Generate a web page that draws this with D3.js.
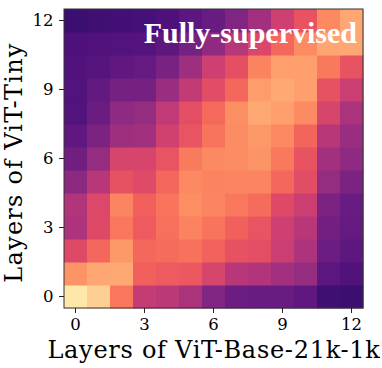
<!DOCTYPE html>
<html>
<head>
<meta charset="utf-8">
<script src="https://cdn.jsdelivr.net/npm/d3@7"></script>
<style>
  html, body { margin: 0; padding: 0; background: #fff; }
  svg { display: block; }
</style>
</head>
<body>
<script>
// Layer indices (0..12) for both models
const layersX = [0,1,2,3,4,5,6,7,8,9,10,11,12]; // ViT-Base-21k-1k
const layersY = [0,1,2,3,4,5,6,7,8,9,10,11,12]; // ViT-Tiny
const tickLabels = [0, 3, 6, 9, 12];

// Similarity values, one row per ViT-Tiny layer (row 0 = layer 0), columns = ViT-Base layers 0..12
const row0  = [0.95, 0.90, 0.715, 0.535, 0.515, 0.475, 0.37, 0.32, 0.31, 0.31, 0.29, 0.21, 0.20];
const row1  = [0.775, 0.815, 0.82, 0.665, 0.65, 0.645, 0.58, 0.505, 0.49, 0.455, 0.42, 0.28, 0.25];
const row2  = [0.60, 0.68, 0.785, 0.68, 0.69, 0.705, 0.67, 0.625, 0.615, 0.55, 0.48, 0.32, 0.285];
const row3  = [0.48, 0.60, 0.715, 0.65, 0.70, 0.74, 0.71, 0.665, 0.635, 0.555, 0.50, 0.335, 0.30];
const row4  = [0.485, 0.595, 0.745, 0.665, 0.71, 0.765, 0.745, 0.715, 0.695, 0.60, 0.55, 0.36, 0.31];
const row5  = [0.395, 0.50, 0.625, 0.605, 0.68, 0.75, 0.74, 0.745, 0.745, 0.68, 0.61, 0.42, 0.36];
const row6  = [0.33, 0.42, 0.58, 0.585, 0.635, 0.725, 0.75, 0.76, 0.775, 0.72, 0.63, 0.455, 0.405];
const row7  = [0.29, 0.36, 0.445, 0.45, 0.565, 0.635, 0.71, 0.76, 0.785, 0.75, 0.675, 0.505, 0.43];
const row8  = [0.255, 0.315, 0.405, 0.42, 0.52, 0.615, 0.685, 0.765, 0.82, 0.80, 0.755, 0.58, 0.475];
const row9  = [0.255, 0.295, 0.34, 0.345, 0.43, 0.53, 0.61, 0.68, 0.795, 0.82, 0.80, 0.625, 0.55];
const row10 = [0.25, 0.265, 0.29, 0.30, 0.355, 0.445, 0.555, 0.62, 0.74, 0.80, 0.80, 0.72, 0.63];
const row11 = [0.245, 0.25, 0.255, 0.26, 0.285, 0.34, 0.41, 0.50, 0.59, 0.68, 0.755, 0.81, 0.815];
const row12 = [0.20, 0.21, 0.215, 0.225, 0.245, 0.28, 0.31, 0.37, 0.455, 0.555, 0.63, 0.75, 0.815];

const xLabel = "Layers of ViT-Base-21k-1k";
const yLabel = "Layers of ViT-Tiny";
const title = "Fully-supervised";

const rows = [row0,row1,row2,row3,row4,row5,row6,row7,row8,row9,row10,row11,row12];
const cells = [];
rows.forEach((r, yi) => r.forEach((v, xi) => cells.push({x: layersX[xi], y: layersY[yi], v})));

const W = 382, H = 368;
const svg = d3.select("body").append("svg").attr("width", W).attr("height", H);

const x = d3.scaleBand().domain(layersX).range([64, 363]);
const y = d3.scaleBand().domain(layersY.slice().reverse()).range([9, 308]);
const color = d3.scaleSequential(d3.interpolateMagma).domain([0, 1]);

svg.append("g").selectAll("rect").data(cells).join("rect")
  .attr("x", d => x(d.x))
  .attr("y", d => y(d.y))
  .attr("width", x.bandwidth() + 0.5)
  .attr("height", y.bandwidth() + 0.5)
  .attr("fill", d => color(d.v));

// frame
svg.append("rect")
  .attr("x", 64).attr("y", 9).attr("width", 299).attr("height", 299)
  .attr("fill", "none").attr("stroke", "#333").attr("stroke-width", 1);

const font = "'DejaVu Serif', serif";

const xAxis = svg.append("g").attr("transform", "translate(0,308)")
  .call(d3.axisBottom(x).tickValues(tickLabels).tickSize(5).tickPadding(5.5));
xAxis.select(".domain").remove();
xAxis.selectAll("line").attr("stroke", "#222");
xAxis.selectAll("text").attr("font-family", font).attr("font-size", 16.5).attr("fill", "#000");

const yAxis = svg.append("g").attr("transform", "translate(64,0)")
  .call(d3.axisLeft(y).tickValues(tickLabels).tickSize(5).tickPadding(5.5));
yAxis.select(".domain").remove();
yAxis.selectAll("line").attr("stroke", "#222");
yAxis.selectAll("text").attr("font-family", font).attr("font-size", 16.5).attr("fill", "#000");

svg.append("text")
  .attr("x", 214).attr("y", 358)
  .attr("text-anchor", "middle")
  .attr("font-family", font).attr("font-size", 24)
  .attr("letter-spacing", 0.72)
  .text(xLabel);

svg.append("text")
  .attr("transform", "translate(21.5,162.5) rotate(-90)")
  .attr("text-anchor", "middle")
  .attr("font-family", font).attr("font-size", 24)
  .attr("letter-spacing", 1.25)
  .text(yLabel);

svg.append("text")
  .attr("x", 357).attr("y", 43)
  .attr("text-anchor", "end")
  .attr("font-family", "'Liberation Serif', 'Times New Roman', serif")
  .attr("font-weight", "bold").attr("font-size", 30)
  .attr("fill", "#fff")
  .text(title);
</script>
</body>
</html>
